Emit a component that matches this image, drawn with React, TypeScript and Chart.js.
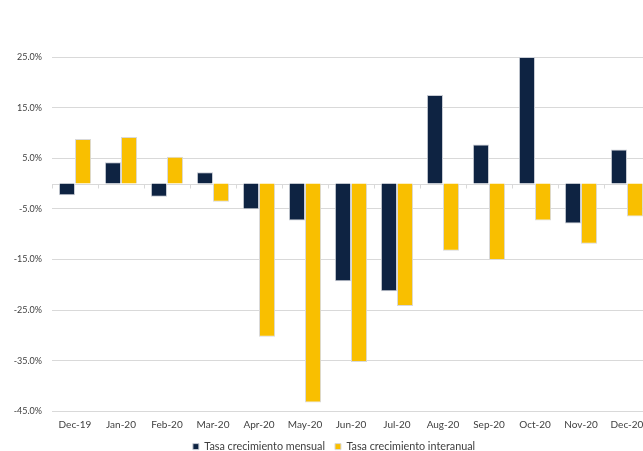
import React, { useEffect, useRef } from "react";
import { Chart, registerables } from "chart.js";

Chart.register(...registerables);

const categories = ["Dec-19", "Jan-20", "Feb-20", "Mar-20", "Apr-20", "May-20", "Jun-20", "Jul-20", "Aug-20", "Sep-20", "Oct-20", "Nov-20", "Dec-20"];
const mensual = [-2.3, 4.2, -2.6, 2.2, -5.1, -7.3, -19.3, -21.3, 17.5, 7.7, 25.0, -7.9, 6.7];
const interanual = [8.8, 9.2, 5.3, -3.6, -30.3, -43.3, -35.3, -24.2, -13.3, -15.1, -7.3, -11.9, -6.5];
const seriesNames = ["Tasa crecimiento mensual", "Tasa crecimiento interanual"];

const NAVY = "#0e2342";
const YELLOW = "#f9bf00";
const GRID = "#d9d9d9";
const TEXT = "#404040";
const FONT = "Lato, 'DejaVu Sans', sans-serif";

const zeroLine = {
  id: "zeroLine",
  beforeDatasetsDraw(chart: any) {
    const { ctx, chartArea, scales } = chart;
    const y = Math.round(scales.y.getPixelForValue(0)) + 0.5;
    ctx.save();
    ctx.strokeStyle = GRID;
    ctx.lineWidth = 1;
    ctx.beginPath();
    ctx.moveTo(chartArea.left, y);
    ctx.lineTo(chartArea.right, y);
    const n = categories.length;
    const w = (chartArea.right - chartArea.left) / n;
    for (let i = 0; i <= n; i++) {
      const px = Math.round(chartArea.left + i * w) + 0.5;
      ctx.moveTo(px, y);
      ctx.lineTo(px, y + 4);
    }
    ctx.stroke();
    ctx.restore();
  },
};

const legendShift = {
  id: "legendShift",
  afterLayout(chart: any) {
    const lg = chart.legend;
    if (!lg) return;
    const dx = 5;
    lg.left += dx;
    lg.right += dx;
    (lg.legendHitBoxes || []).forEach((b: any) => { b.left += dx; });
  },
};

export default function App() {
  const ref = useRef<HTMLCanvasElement | null>(null);
  useEffect(() => {
    if (!ref.current) return;
    const chart = new Chart(ref.current, {
      type: "bar",
      data: {
        labels: categories,
        datasets: [
          { label: seriesNames[0], data: mensual, backgroundColor: NAVY, borderColor: "#c8ccd4", borderWidth: 1 },
          { label: seriesNames[1], data: interanual, backgroundColor: YELLOW, borderColor: "#d9d9d9", borderWidth: 1 },
        ],
      },
      options: {
        responsive: false,
        animation: false,
        layout: { padding: { left: 8, right: 10, top: 57, bottom: 0 } },
        datasets: { bar: { categoryPercentage: 0.7, barPercentage: 1.0 } },
        scales: {
          x: {
            grid: { display: false, drawTicks: false },
            border: { display: false },
            ticks: { color: TEXT, font: { family: FONT, size: 10 }, padding: 8, maxRotation: 0, autoSkip: false },
            afterFit(scale: any) { scale.height = 20; },
          },
          y: {
            min: -45,
            max: 25,
            grid: { color: GRID, drawTicks: false },
            border: { display: false },
            ticks: {
              stepSize: 10,
              padding: 10,
              color: TEXT,
              font: { family: FONT, size: 9 },
              callback: (v: any) => Number(v).toFixed(1) + "%",
            },
            afterFit(scale: any) { scale.width = 44; },
          },
        },
        plugins: {
          legend: {
            position: "bottom",
            labels: { boxWidth: 6, boxHeight: 6, color: TEXT, font: { family: FONT, size: 10.8 }, padding: 10 },
          },
          tooltip: { enabled: false },
        },
      },
      plugins: [zeroLine, legendShift],
    });
    return () => chart.destroy();
  }, []);
  return (
    <div style={{ position: "fixed", left: 0, top: 0, width: 643, height: 451, overflow: "hidden", background: "#fff" }}>
      <canvas ref={ref} width={660} height={462} style={{ display: "block" }} />
    </div>
  );
}
